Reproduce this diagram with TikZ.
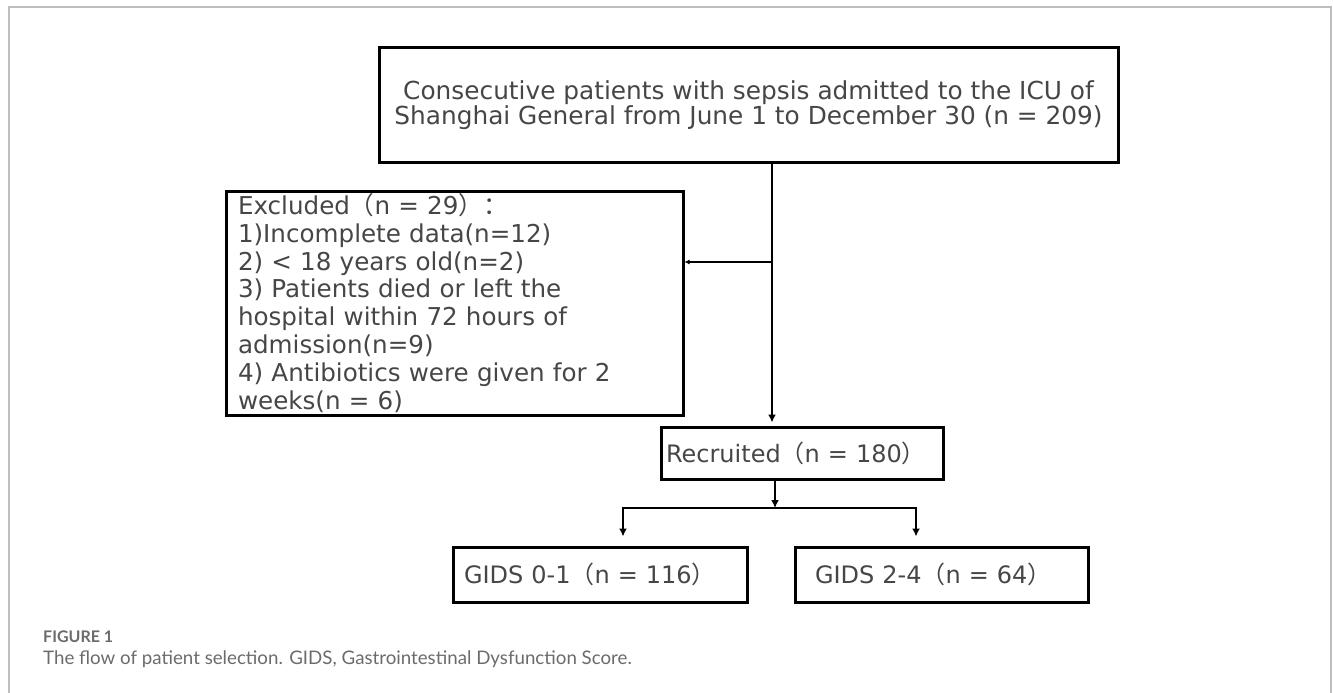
\documentclass[tikz,border=0pt]{standalone}
\usepackage{fontspec}
\setmainfont{DejaVu Sans}
\newfontfamily\cjk{Noto Sans CJK SC}
\newfontfamily\capfont{Lato}
\usetikzlibrary{arrows.meta,calc,positioning}
\definecolor{Ink}{HTML}{464646}
\definecolor{Frame}{HTML}{BDBDBD}
\definecolor{Caption}{HTML}{6B6B6B}

\begin{document}
\begin{tikzpicture}[x=1pt, y=-1pt, >=Latex,
    flowbox/.style={draw=black, line width=3pt, text=Ink, inner ysep=0pt},
    link/.style={-{Latex[length=8pt,width=8pt]}, line width=2.8pt},
    thinlink/.style={-{Latex[length=5pt,width=5pt]}, line width=1.3pt}]
    \useasboundingbox (0,0) rectangle (1333,693);
    \draw[Frame, line width=1.3pt] (9,693) -- (9,7) -- (1331,7) -- (1331,693);
    \node[flowbox, minimum width=739pt, minimum height=114pt, align=center, font=\fontsize{24.8}{25}\selectfont] (cohort) at (748.5,105) {
      Consecutive patients with sepsis admitted to the ICU of\\
      Shanghai General from June 1 to December 30 (n = 209)
    };
    \node[flowbox, text width=433pt, inner xsep=12pt, minimum height=224pt, align=left, font=\fontsize{24.6}{27.9}\selectfont] (excluded) at (454.5,303) {
      Excluded{\cjk （}n = 29{\cjk ）：}\\
      1)Incomplete data(n=12)\\
      2) < 18 years old(n=2)\\
      3) Patients died or left the\\
      hospital within 72 hours of\\
      admission(n=9)\\
      4) Antibiotics were given for 2\\
      weeks(n = 6)
    };
    \node[flowbox, text width=272pt, inner xsep=5pt, minimum height=52pt, align=left, font=\fontsize{24}{24}\selectfont] (recruited) at (802,453) {
      Recruited{\cjk （}n = 180{\cjk ）}
    };
    \node[flowbox, text width=272pt, inner xsep=11pt, minimum height=55pt, align=left, font=\fontsize{24}{24}\selectfont] (gids01) at (600,574.5) {
      GIDS 0-1{\cjk （}n = 116{\cjk ）}
    };
    \node[flowbox, text width=253pt, inner xsep=20pt, minimum height=55pt, align=left, font=\fontsize{24}{24}\selectfont, right=45pt of gids01] (gids24) {
      GIDS 2-4{\cjk （}n = 64{\cjk ）}
    };
    \node[anchor=west, inner sep=0pt, text=Caption, font=\capfont\bfseries\fontsize{16}{17}\selectfont] (figlabel) at (43,637) {FIGURE 1};
    \node[anchor=west, inner sep=0pt, text=Caption, font=\capfont\fontsize{18.7}{21}\selectfont] (figcaption) at (43,659) {The flow of patient selection. GIDS, Gastrointestinal Dysfunction Score.};
    \coordinate (trunk) at (772,262);
    \coordinate (fork) at (775,508);
    \coordinate (forkL) at (623,508);
    \coordinate (forkR) at (916,508);
    \draw[link, shorten >=3pt] (cohort.south -| trunk) -- (recruited.north -| trunk);
    \draw[thinlink] (trunk) -- (trunk -| excluded.east);
    \draw[link] (recruited.south -| fork) -- (fork);
    \draw[link, shorten >=9pt] (fork) -- (forkL) -- (forkL |- gids01.north);
    \draw[link, shorten >=9pt] (fork) -- (forkR) -- (forkR |- gids24.north);
  \end{tikzpicture}
\end{document}
